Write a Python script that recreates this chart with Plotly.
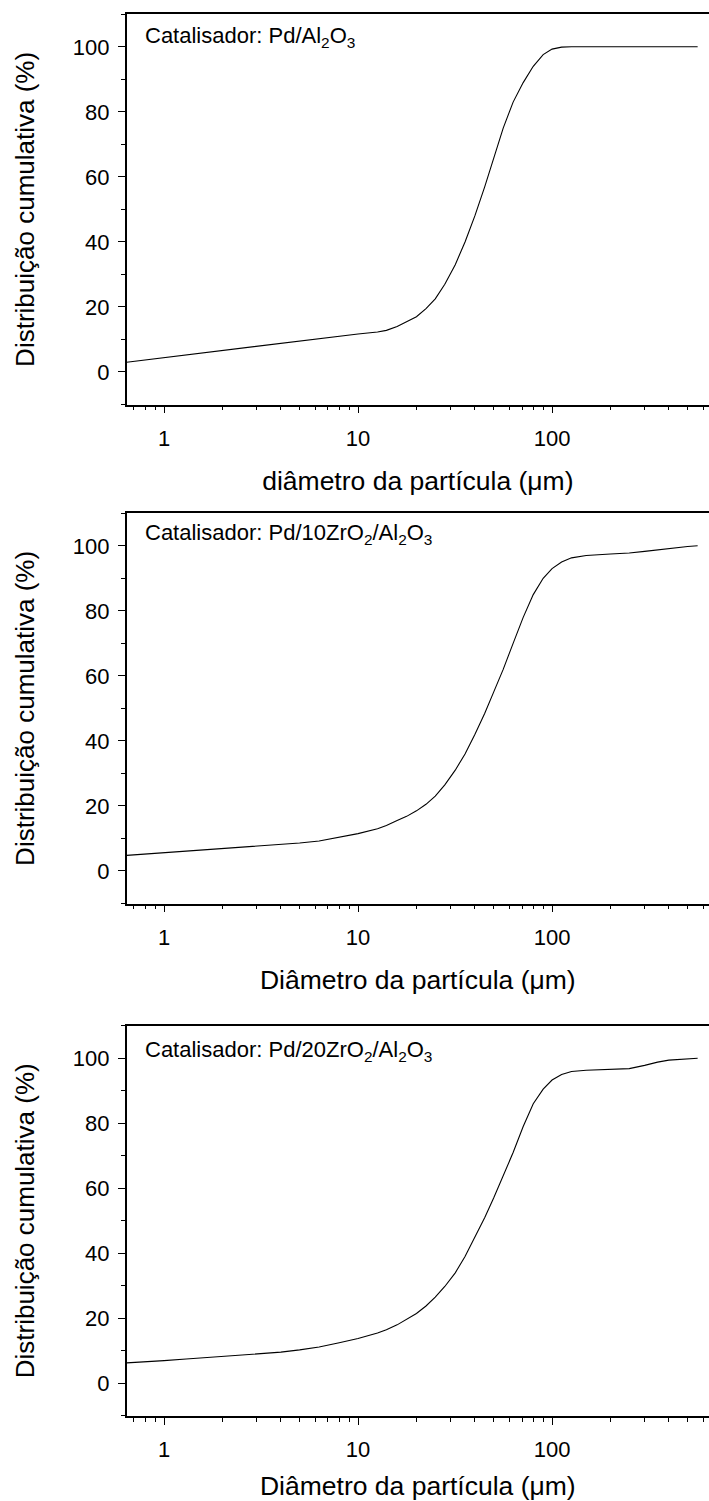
import plotly.graph_objects as go
import numpy as np

# ---- data ----
diam = [0.642, 0.8, 1.0, 1.3, 1.6, 2.0, 2.5, 3.2, 4.0, 5.0, 6.3, 8.0, 10.0, 12.6, 14.0,
        15.9, 17.8, 20.0, 22.4, 25.0, 28.0, 31.7, 35.6, 40.0, 45.0, 50.0, 56.0, 63.0,
        71.0, 80.0, 90.0, 100.0, 112.0, 126.0, 150.0, 200.0, 250.0, 300.0, 350.0,
        400.0, 500.0, 563.0]

cum_pd_al2o3 = [3.0, 3.7, 4.5, 5.2, 6.0, 6.8, 7.4, 8.2, 9.0, 9.7, 10.4, 11.2, 11.7, 12.3, 12.8,
                14.0, 15.5, 17.0, 19.5, 22.5, 27.0, 33.0, 40.0, 48.0, 57.0, 66.0, 75.0, 83.0,
                89.0, 94.0, 97.6, 99.3, 99.9, 100.0, 100.0, 100.0, 100.0, 100.0, 100.0,
                100.0, 100.0, 100.0]

cum_pd_10zr = [4.8, 5.2, 5.6, 6.1, 6.5, 6.9, 7.2, 7.6, 8.0, 8.6, 9.2, 10.3, 11.5, 13.0, 14.0,
               15.5, 16.8, 18.5, 20.5, 23.0, 26.5, 31.0, 36.0, 42.0, 48.5, 55.0, 62.0, 70.0,
               78.0, 85.0, 90.0, 93.0, 95.0, 96.3, 97.0, 97.5, 97.8, 98.3, 98.8,
               99.3, 99.8, 100.0]

cum_pd_20zr = [6.3, 6.6, 7.0, 7.5, 7.9, 8.3, 8.7, 9.1, 9.6, 10.3, 11.2, 12.5, 13.8, 15.5, 16.5,
               18.0, 19.6, 21.5, 23.8, 26.5, 29.8, 34.0, 39.0, 45.0, 51.0, 57.0, 64.0, 71.0,
               79.0, 86.0, 90.5, 93.3, 95.0, 95.9, 96.3, 96.5, 96.8, 97.8, 98.8,
               99.4, 99.9, 100.0]

series = [cum_pd_al2o3, cum_pd_10zr, cum_pd_20zr]
labels = ["Catalisador: Pd/Al<sub>2</sub>O<sub>3</sub>",
          "Catalisador: Pd/10ZrO<sub>2</sub>/Al<sub>2</sub>O<sub>3</sub>",
          "Catalisador: Pd/20ZrO<sub>2</sub>/Al<sub>2</sub>O<sub>3</sub>"]
xtitles = ["diâmetro da partícula (μm)", "Diâmetro da partícula (μm)", "Diâmetro da partícula (μm)"]
ytitle = "Distribuição cumulativa (%)"

x_major = [1, 10, 100]
x_major_text = ["1", "10", "100"]
x_minor = [0.7, 0.8, 0.9] + list(range(2, 10)) + list(range(20, 100, 10)) + list(range(200, 700, 100))
y_major = [0, 20, 40, 60, 80, 100]
y_minor = [-10, 10, 30, 50, 70, 90, 110]

W, H = 709, 1501
left_px = 126.7
tops = [14.3, 513.3, 1025.7]
label_mid = [23.0, 21.0, 25.0]   # annotation centre below frame top (px)
plot_h = 390.2

FONT = "Liberation Sans, Arial, sans-serif"

fig = go.Figure()
layout = dict(width=W, height=H, margin=dict(l=0, r=0, t=0, b=0, autoexpand=False),
              paper_bgcolor="white", plot_bgcolor="white", showlegend=False,
              font=dict(family=FONT, color="black"))
annotations = []
for i, (ys, lab, xt) in enumerate(zip(series, labels, xtitles)):
    n = "" if i == 0 else str(i + 1)
    fig.add_trace(go.Scatter(x=diam, y=ys, mode="lines", xaxis="x" + n, yaxis="y" + n,
                             line=dict(color="black", width=1.1)))
    top = tops[i]
    bot = top + plot_h
    layout["xaxis" + n] = dict(
        type="log", range=[np.log10(0.642), 2.809], domain=[left_px / W, 1.0],
        anchor="y" + n, showgrid=False, zeroline=False,
        showline=True, linecolor="black", linewidth=1.5, mirror=True,
        ticks="outside", ticklen=7, tickwidth=1.3, tickcolor="black",
        tickmode="array", tickvals=x_major, ticktext=x_major_text,
        tickfont=dict(size=22, family=FONT), ticklabelstandoff=6,
        minor=dict(tickmode="array", tickvals=x_minor, ticks="outside", ticklen=4,
                   tickwidth=1.3, tickcolor="black", showgrid=False),
        title=dict(text=xt, font=dict(size=26.5, family=FONT), standoff=22),
    )
    layout["yaxis" + n] = dict(
        range=[-10, 110], domain=[1 - bot / H, 1 - top / H], anchor="x" + n,
        showgrid=False, zeroline=False,
        showline=True, linecolor="black", linewidth=1.5, mirror=False,
        ticks="outside", ticklen=7, tickwidth=1.3, tickcolor="black",
        tickmode="array", tickvals=y_major,
        tickfont=dict(size=22, family=FONT), ticklabelstandoff=4,
        minor=dict(tickmode="array", tickvals=y_minor, ticks="outside", ticklen=4,
                   tickwidth=1.3, tickcolor="black", showgrid=False),
        title=dict(text=ytitle, font=dict(size=26, family=FONT), standoff=31),
    )
    annotations.append(dict(text=lab, xref="x" + n + " domain", yref="y" + n + " domain",
                            x=(143 - left_px) / (W - left_px), y=1 - label_mid[i] / plot_h,
                            xanchor="left", yanchor="middle", showarrow=False,
                            font=dict(size=22, family=FONT, color="black")))
layout["annotations"] = annotations
fig.update_layout(**layout)
fig.write_html("out.html")
